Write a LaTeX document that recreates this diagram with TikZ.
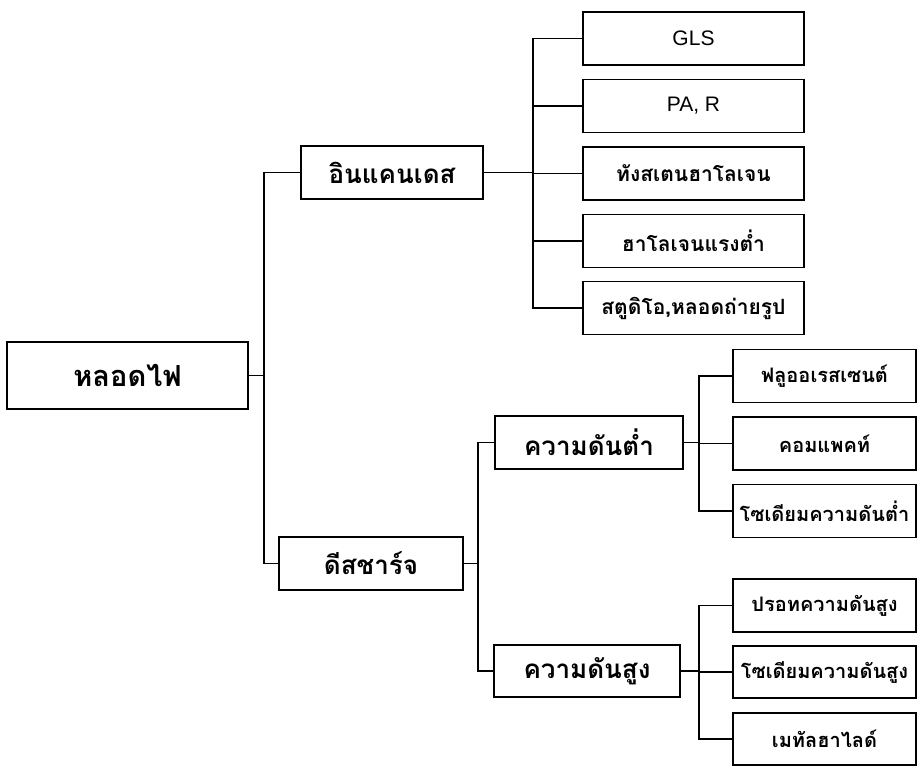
\documentclass[tikz,border=0pt]{standalone}
\usepackage{fontspec}
\setmainfont{Liberation Sans}
\newfontfamily\thaifont[Script=Thai]{Loma}
\begin{document}
\begin{tikzpicture}[x=1pt,y=-1pt,
  box/.style={draw,line width=1.1pt,inner sep=0pt,minimum height=53pt,font=\thaifont\bfseries},
  rootbox/.style={box,minimum width=241pt,minimum height=67pt,font=\thaifont\bfseries\fontsize{29}{32}\selectfont},
  midbox/.style={box,font=\thaifont\bfseries\fontsize{26}{30}\selectfont},
  incleaf/.style={box,minimum width=221pt,font=\thaifont\bfseries\fontsize{21}{24}\selectfont},
  disleaf/.style={box,minimum width=183pt,font=\thaifont\bfseries\fontsize{20}{24}\selectfont},
  latin/.style={font=\fontsize{21}{24}\selectfont},
  link/.style={line width=1.1pt}]
\useasboundingbox (0,0) rectangle (918,767);
% nodes
\node[rootbox] (root) at (127.5,375.5) {หลอดไฟ};
\node[midbox,minimum width=182pt] (inc) at (392,172.5) {อินแคนเดส};
\node[midbox,minimum width=184pt] (dis) at (371,563.5) {ดีสชาร์จ};
\node[midbox,minimum width=188pt] (low) at (589,442.5) {ความดันต่ำ};
\node[midbox,minimum width=186pt,minimum height=52pt] (high) at (587,671) {ความดันสูง};
\node[incleaf,latin] (gls) at (693.5,38.5) {GLS};
\node[incleaf,latin] (par) at (693.5,106) {PA, R};
\node[incleaf] (tung) at (693.5,173.5) {ทังสเตนฮาโลเจน};
\node[incleaf] (halo) at (693.5,241) {ฮาโลเจนแรงต่ำ};
\node[incleaf] (stud) at (693.5,308) {สตูดิโอ,หลอดถ่ายรูป};
\node[disleaf] (fluo) at (824.5,376) {ฟลูออเรสเซนต์};
\node[disleaf] (comp) at (824.5,443.5) {คอมแพคท์};
\node[disleaf] (lps) at (824.5,511) {โซเดียมความดันต่ำ};
\node[disleaf] (merc) at (824.5,605.5) {ปรอทความดันสูง};
\node[disleaf,minimum height=52pt] (hps) at (824.5,672) {โซเดียมความดันสูง};
\node[disleaf,minimum height=52pt] (metal) at (824.5,739) {เมทัลฮาไลด์};
% bus coordinates
\coordinate (rb) at (264,375.5);
\coordinate (ib) at (533,172.5);
\coordinate (db) at (478,563.5);
\coordinate (lb) at (699,442.5);
\coordinate (hb) at (699,671);
% connectors
\draw[link] (root.east) -- (rb);
\draw[link] (rb) |- (inc.west);
\draw[link] (rb) |- (dis.west);
\draw[link] (inc.east) -- (ib);
\foreach \n in {gls,par,tung,halo,stud} \draw[link] (ib) |- (\n.west);
\draw[link] (dis.east) -- (db);
\draw[link] (db) |- (low.west);
\draw[link] (db) |- (high.west);
\draw[link] (low.east) -- (lb);
\foreach \n in {fluo,comp,lps} \draw[link] (lb) |- (\n.west);
\draw[link] (high.east) -- (hb);
\foreach \n in {merc,hps,metal} \draw[link] (hb) |- (\n.west);
\end{tikzpicture}
\end{document}
